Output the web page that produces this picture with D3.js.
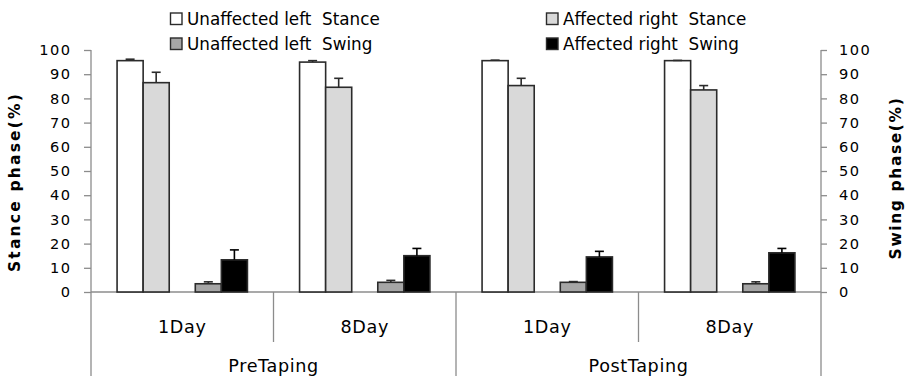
<!DOCTYPE html>
<html>
<head>
<meta charset="utf-8">
<script src="https://cdn.jsdelivr.net/npm/d3@7/dist/d3.min.js"></script>
<style>
  html, body { margin: 0; padding: 0; background: #fff; }
  svg { display: block; font-family: "DejaVu Sans", sans-serif; }
  text { white-space: pre; fill: #000; }
</style>
</head>
<body>
<svg id="chart" width="908" height="378"></svg>
<script>
// Gait phase ratios (%) per taping condition and measurement day
const sessions = ["PreTaping", "PostTaping"];
const days = ["1Day", "8Day"];
const yTicks = [0, 10, 20, 30, 40, 50, 60, 70, 80, 90, 100];

const unaffectedStance = [95.6, 95.0, 95.6, 95.6];
const affectedStance   = [86.5, 84.6, 85.3, 83.5];
const unaffectedSwing  = [3.4, 4.0, 4.0, 3.4];
const affectedSwing    = [13.3, 15.0, 14.5, 16.2];

const unaffectedStanceErr = [0.6, 0.6, 0.2, 0.1];
const affectedStanceErr   = [4.3, 3.7, 3.0, 1.8];
const unaffectedSwingErr  = [0.8, 0.8, 0.3, 0.8];
const affectedSwingErr    = [4.1, 3.0, 2.3, 1.8];

const seriesNames = ["Unaffected left  Stance", "Unaffected left  Swing",
                     "Affected right  Stance", "Affected right  Swing"];

const series = [
  { key: "uStance", name: seriesNames[0], values: unaffectedStance, err: unaffectedStanceErr, fill: "#ffffff" },
  { key: "aStance", name: seriesNames[2], values: affectedStance,   err: affectedStanceErr,   fill: "#d9d9d9" },
  { key: "uSwing",  name: seriesNames[1], values: unaffectedSwing,  err: unaffectedSwingErr,  fill: "#a6a6a6" },
  { key: "aSwing",  name: seriesNames[3], values: affectedSwing,    err: affectedSwingErr,    fill: "#000000" }
];

// one category per session/day combination
const groups = [];
sessions.forEach(s => days.forEach(d => groups.push({ session: s, day: d, id: s + "|" + d })));

const svg = d3.select("#chart");
const axisColor = "#8c8c8c";
const tickFont = 14.6, legendFont = 16.8, catFont = 17.6;
const plotLeft = 91, plotRight = 821, plotTop = 50, plotBase = 292;

const x0 = d3.scaleBand().domain(groups.map(g => g.id)).range([plotLeft, plotRight]).padding(0);
// stance pair, an empty slot, then the swing pair
const slots = ["uStance", "aStance", "gap", "uSwing", "aSwing"];
const x1 = d3.scaleBand().domain(slots).range([0, x0.bandwidth()]).paddingInner(0).paddingOuter(1);
const y = d3.scaleLinear().domain([0, 100]).range([plotBase, plotTop]);

// left axis
const yLeft = svg.append("g").attr("transform", `translate(${plotLeft},0)`)
  .call(d3.axisLeft(y).tickValues(yTicks).tickSize(7).tickPadding(12.5));
// right axis
const yRight = svg.append("g").attr("transform", `translate(${plotRight},0)`)
  .call(d3.axisRight(y).tickValues(yTicks).tickSize(6).tickPadding(12));
[yLeft, yRight].forEach(g => {
  g.select(".domain").attr("stroke", axisColor).attr("stroke-width", 1.3)
    .attr("d", `M0,${plotTop}V${plotBase}`);
  g.selectAll(".tick line").attr("stroke", axisColor).attr("stroke-width", 1.3);
  g.selectAll(".tick text").attr("font-size", tickFont).attr("font-family", "DejaVu Sans")
    .attr("fill", "#000").attr("letter-spacing", 1.5);
});

// baseline
svg.append("line").attr("x1", plotLeft).attr("x2", plotRight).attr("y1", plotBase).attr("y2", plotBase)
  .attr("stroke", axisColor).attr("stroke-width", 1.3);

// category separators below the baseline
const xAxis = svg.append("g");
groups.forEach((g, i) => {
  const xs = x0(g.id);
  const full = (i % days.length === 0);
  xAxis.append("line").attr("x1", xs).attr("x2", xs).attr("y1", plotBase)
    .attr("y2", full ? 376 : 342).attr("stroke", axisColor).attr("stroke-width", 1.3);
  xAxis.append("text").attr("x", xs + x0.bandwidth() / 2).attr("y", 332.5)
    .attr("text-anchor", "middle").attr("font-size", catFont).attr("letter-spacing", 0.6).text(g.day);
});
xAxis.append("line").attr("x1", plotRight).attr("x2", plotRight).attr("y1", plotBase).attr("y2", 376)
  .attr("stroke", axisColor).attr("stroke-width", 1.3);
sessions.forEach(s => {
  const ids = groups.filter(g => g.session === s).map(g => g.id);
  const cx = (x0(ids[0]) + x0(ids[ids.length - 1]) + x0.bandwidth()) / 2;
  xAxis.append("text").attr("x", cx).attr("y", 371.5).attr("text-anchor", "middle")
    .attr("font-size", catFont).attr("letter-spacing", 0.6).text(s);
});

// bars with upward error bars
const barG = svg.append("g");
groups.forEach((g, i) => {
  series.forEach(s => {
    const bx = x0(g.id) + x1(s.key);
    const bw = x1.bandwidth();
    const v = s.values[i];
    barG.append("rect").attr("x", bx).attr("y", y(v)).attr("width", bw).attr("height", y(0) - y(v))
      .attr("fill", s.fill).attr("stroke", "#2b2b2b").attr("stroke-width", 1.6);
    const cx = bx + bw / 2;
    const ye = y(v + s.err[i]);
    const ec = s.fill === "#000000" ? "#000" : "#2b2b2b";
    barG.append("line").attr("x1", cx).attr("x2", cx).attr("y1", y(v)).attr("y2", ye)
      .attr("stroke", ec).attr("stroke-width", 1.6);
    barG.append("line").attr("x1", cx - 4.5).attr("x2", cx + 4.5).attr("y1", ye).attr("y2", ye)
      .attr("stroke", ec).attr("stroke-width", 1.6);
  });
});

// axis titles
svg.append("text").attr("transform", `translate(19.5,182) rotate(-90)`)
  .attr("text-anchor", "middle").attr("font-size", 15.5).attr("font-weight", "bold")
  .attr("letter-spacing", 2.2).text("Stance phase(%)");
svg.append("text").attr("transform", `translate(901,178) rotate(-90)`)
  .attr("text-anchor", "middle").attr("font-size", 15.5).attr("font-weight", "bold")
  .attr("letter-spacing", 1.6).text("Swing phase(%)");

// legend, two columns: unaffected side on the left, affected side on the right
const legendItems = [
  { s: series[0], x: 170, y: 25 },
  { s: series[1], x: 546, y: 25 },
  { s: series[2], x: 170, y: 50 },
  { s: series[3], x: 546, y: 50 }
];
const lg = svg.append("g");
legendItems.forEach(it => {
  lg.append("rect").attr("x", it.x + 0.5).attr("y", it.y - 12).attr("width", 11.5).attr("height", 11.5)
    .attr("fill", it.s.fill).attr("stroke", "#2b2b2b").attr("stroke-width", 1.4);
  lg.append("text").attr("x", it.x + 17).attr("y", it.y).attr("font-size", legendFont).text(it.s.name);
});
</script>
</body>
</html>
